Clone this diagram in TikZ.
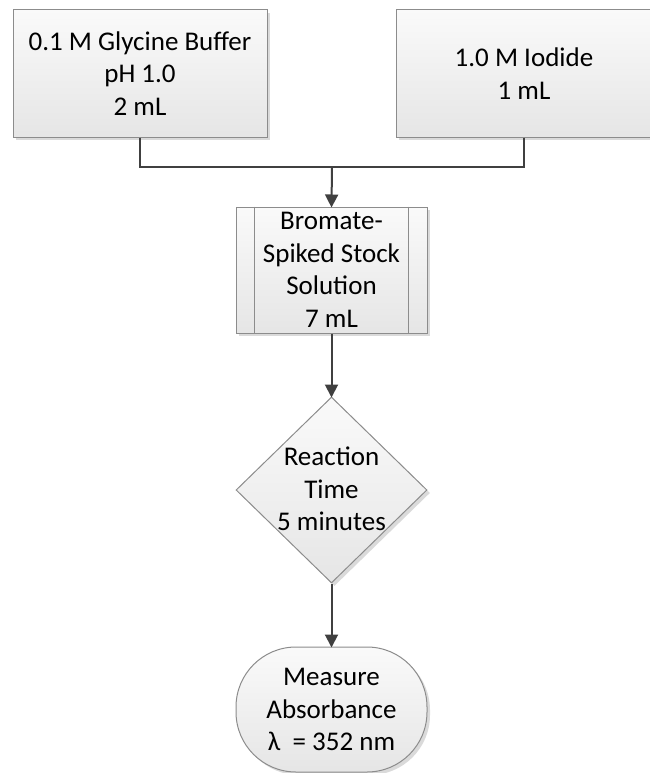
\documentclass[tikz,border=0pt]{standalone}
\usepackage{fontspec}
\setmainfont{Carlito}
\usetikzlibrary{shapes.geometric,shapes.misc,shadows,arrows.meta}
\definecolor{bordergray}{HTML}{8C8C8C}
\definecolor{linegray}{HTML}{404040}
\tikzset{
  x=1pt, y=-1pt,
  flowbox/.style={draw=bordergray, line width=1pt, top color=white!98!black, bottom color=white!90!black,
    drop shadow={shadow xshift=3pt, shadow yshift=-3pt, fill=black!18, opacity=0.8},
    inner sep=0pt, align=center, font=\fontsize{27}{32.5}\selectfont},
  conn/.style={draw=linegray, line width=2pt},
  arr/.style={conn, -{Triangle[length=13pt,width=13pt]}, shorten >=-1pt},
  txt/.style={align=center, font=\fontsize{27}{32.5}\selectfont, inner sep=0pt}
}
\begin{document}
\begin{tikzpicture}
\useasboundingbox (0,0) rectangle (649,773);
\node[flowbox, rectangle, minimum width=254pt, minimum height=127pt] (glyc) at (140,73.5)
  {0.1 M Glycine Buffer\\pH 1.0\\2 mL};
\node[flowbox, rectangle, minimum width=256pt, minimum height=127pt] (iod) at (524,73.5)
  {1.0 M Iodide\\1 mL};
\node[flowbox, rectangle, minimum width=191pt, minimum height=126pt] (brom) at (331.5,270)
  {Bromate-\\Spiked Stock\\Solution\\7 mL};
\draw[draw=bordergray, line width=1pt] ([xshift=19pt]brom.north west) -- ([xshift=19pt]brom.south west);
\draw[draw=bordergray, line width=1pt] ([xshift=-19pt]brom.north east) -- ([xshift=-19pt]brom.south east);
\node[flowbox, diamond, aspect=1.02, minimum width=191pt, minimum height=186pt] (react) at (331.5,490) {};
\node[txt] (reacttxt) at (331.5,489) {Reaction\\Time\\5 minutes};
\node[flowbox, rectangle, rounded corners=60pt, minimum width=191pt, minimum height=125pt] (meas) at (331.5,709.5)
  {Measure\\Absorbance\\λ \ = 352 nm};
\coordinate (join) at (332,167);
\draw[conn] (glyc.south) |- (join);
\draw[conn] (iod.south) |- (join);
\draw[arr] (join) -- (brom.north);
\draw[arr] (brom.south) -- (react.north);
\draw[arr] (react.south) -- (meas.north);
\end{tikzpicture}
\end{document}
